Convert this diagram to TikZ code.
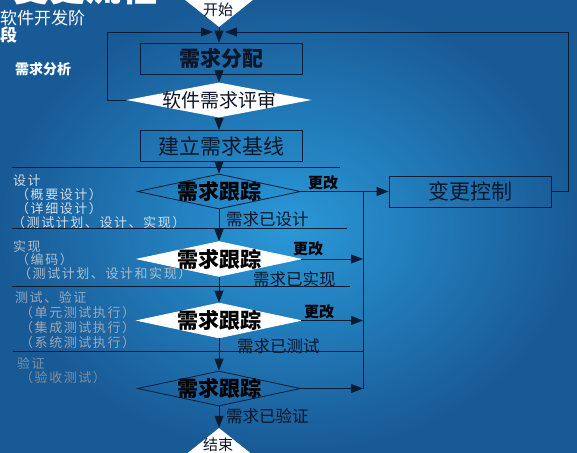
\documentclass[tikz,border=0pt]{standalone}
\usepackage{fontspec}
\newfontfamily\cjk{Noto Sans CJK SC}
\newfontfamily\cjkwide[LetterSpace=12]{Noto Sans CJK SC}
\usetikzlibrary{shapes.geometric,arrows.meta,positioning}

\definecolor{bgdark}{RGB}{24,90,150}
\definecolor{bglight}{RGB}{42,152,216}
\definecolor{linenavy}{RGB}{10,28,52}
\definecolor{txtdark}{RGB}{12,22,40}
\definecolor{stagea}{RGB}{210,221,234}
\definecolor{stageb}{RGB}{176,188,200}
\definecolor{stagec}{RGB}{156,168,182}
\definecolor{staged}{RGB}{128,142,158}

\newcommand{\fsz}[1]{\fontsize{#1pt}{#1pt}\selectfont}

\begin{document}
\begin{tikzpicture}[x=1pt,y=-1pt,
    flowbox/.style={draw=linenavy, line width=0.8pt, minimum width=162pt, minimum height=31pt,
      inner sep=0pt, text=txtdark, font=\cjk\fsz{21}},
    trackdiamond/.style={diamond, shape aspect=4.66, draw=linenavy, line width=0.8pt,
      minimum width=163pt, minimum height=35pt, inner sep=0pt,
      label={[font=\cjk\bfseries\fsz{21}, text=black]center:需求跟踪}},
    whitediamond/.style={trackdiamond, fill=white, draw=white},
    enddiamond/.style={diamond, shape aspect=1.26, fill=white, minimum width=88pt,
      minimum height=70pt, inner sep=0pt},
    arr/.style={draw=linenavy, line width=0.8pt, -{Triangle[length=12pt,width=9pt]}},
    sepline/.style={draw=linenavy, line width=0.8pt},
    changelbl/.style={font=\cjk\bfseries\fsz{15}, text=black, inner sep=1pt},
    flowlbl/.style={font=\cjk\fsz{16.5}, text=txtdark, anchor=west, inner sep=0pt},
    stagetxt/.style={font=\cjkwide\fsz{13}, anchor=west, inner sep=0pt}]

  % background
  \useasboundingbox (0,0) rectangle (577,452);
  \shade[inner color=bglight, outer color=bgdark] (0,0) rectangle (577,452);

  % title and phase headings
  \node[anchor=base west, inner sep=0pt, text=white, font=\cjk\bfseries\fsz{36}] (title) at (13,2) {变更流程};
  \node[anchor=west, inner sep=0pt, text=white, font=\cjk\fsz{17}] (phase) at (0,18) {软件开发阶};
  \node[anchor=west, inner sep=0pt, text=white, font=\cjk\bfseries\fsz{17}] (phaseb) at (0,35) {段};
  \node[anchor=west, inner sep=0pt, text=white, font=\cjk\bfseries\fsz{14}] (analysis) at (15,69) {需求分析};

  % stage dividers
  \draw[sepline] (12,167) -- (340,167);
  \draw[sepline] (12,228) -- (347,228);
  \draw[sepline] (12,286) -- (350,286);
  \draw[sepline] (13,351) -- (363,351);

  % stage notes
  \node[stagetxt, text=stagea] (design) at (13,181) {设计};
  \node[stagetxt, text=stagea] (designa) at (16,195) {（概要设计）};
  \node[stagetxt, text=stagea] (designb) at (16,209) {（详细设计）};
  \node[stagetxt, text=stagea] (designc) at (12,222.5) {（测试计划、设计、实现）};
  \node[stagetxt, text=stageb] (impl) at (13,247) {实现};
  \node[stagetxt, text=stageb] (impla) at (16,260) {（编码）};
  \node[stagetxt, text=stageb] (implb) at (18,273.5) {（测试计划、设计和实现）};
  \node[stagetxt, text=stagec] (test) at (15,297) {测试、验证};
  \node[stagetxt, text=stagec] (testa) at (20,313) {（单元测试执行）};
  \node[stagetxt, text=stagec] (testb) at (20,328) {（集成测试执行）};
  \node[stagetxt, text=stagec] (testc) at (20,343) {（系统测试执行）};
  \node[stagetxt, text=staged] (verify) at (17,363) {验证};
  \node[stagetxt, text=staged] (verifya) at (20,378) {（验收测试）};

  % main column
  \node[enddiamond] (start) at (219,-8) {};
  \node[font=\cjk\fsz{15}, text=txtdark, inner sep=0pt] (starttxt) at (218,10) {开始};
  \coordinate (merge) at (219,32);
  \node[flowbox, font=\cjk\bfseries\fsz{21}] (alloc) at (221,58.5) {需求分配};
  \node[diamond, shape aspect=5.3, fill=white, minimum width=185pt, minimum height=35pt,
    inner sep=0pt, label={[font=\cjk\fsz{19}, text=txtdark]center:软件需求评审}] (review) at (219,100) {};
  \node[flowbox] (baseline) at (221,146) {建立需求基线};
  \node[trackdiamond] (trackd) at (219,191.5) {};
  \node[whitediamond] (tracki) at (219,259) {};
  \node[whitediamond] (trackt) at (219,320.5) {};
  \node[trackdiamond] (trackv) at (219,388.5) {};
  \node[enddiamond] (finish) at (219,463) {};
  \node[font=\cjk\fsz{15}, text=txtdark, inner sep=0pt] (finishtxt) at (218,445) {结束};

  \node[flowbox] (change) at (470,191.5) {变更控制};
  \coordinate (vtop) at (363,191.5);
  \coordinate (vbot) at (363,388.5);

  % connectors
  \draw[arr] (start.south) -- (start.south |- alloc.north);
  \draw[arr] (review.west) -- ++(-19,0) |- ([xshift=-6pt]merge);
  \draw[arr] (change.east) -- ++(17,0) |- ([xshift=6pt]merge);
  \draw[arr] (review.north |- alloc.south) -- (review.north);
  \draw[arr] (review.south) -- (review.south |- baseline.north);
  \draw[arr] (trackd.north |- baseline.south) -- (trackd.north);
  \draw[arr] (trackd.south) -- (tracki.north);
  \draw[arr] (tracki.south) -- (trackt.north);
  \draw[arr] (trackt.south) -- (trackv.north);
  \draw[arr] (trackv.south) -- (finish.north);

  \draw[arr] (trackd.east) -- (change.west);
  \draw[sepline] (vtop) -- (vbot);
  \draw[arr] (tracki.east) -- (tracki.east -| vtop);
  \draw[arr] (trackt.east) -- (trackt.east -| vtop);
  \draw[arr] (trackv.east) -- (vbot);

  % connector labels
  \node[changelbl, anchor=south west] (chgd) at ([xshift=6pt]trackd.east) {更改};
  \node[changelbl, anchor=south west] (chgi) at ([xshift=-9pt,yshift=2pt]tracki.east) {更改};
  \node[changelbl, anchor=south west] (chgt) at ([xshift=2pt]trackt.east) {更改};
  \node[flowlbl] (lbldesign) at (226,219) {需求已设计};
  \node[flowlbl] (lblimpl) at (253,279) {需求已实现};
  \node[flowlbl] (lbltest) at (237,346) {需求已测试};
  \node[flowlbl] (lblverify) at (226,416) {需求已验证};
\end{tikzpicture}
\end{document}
